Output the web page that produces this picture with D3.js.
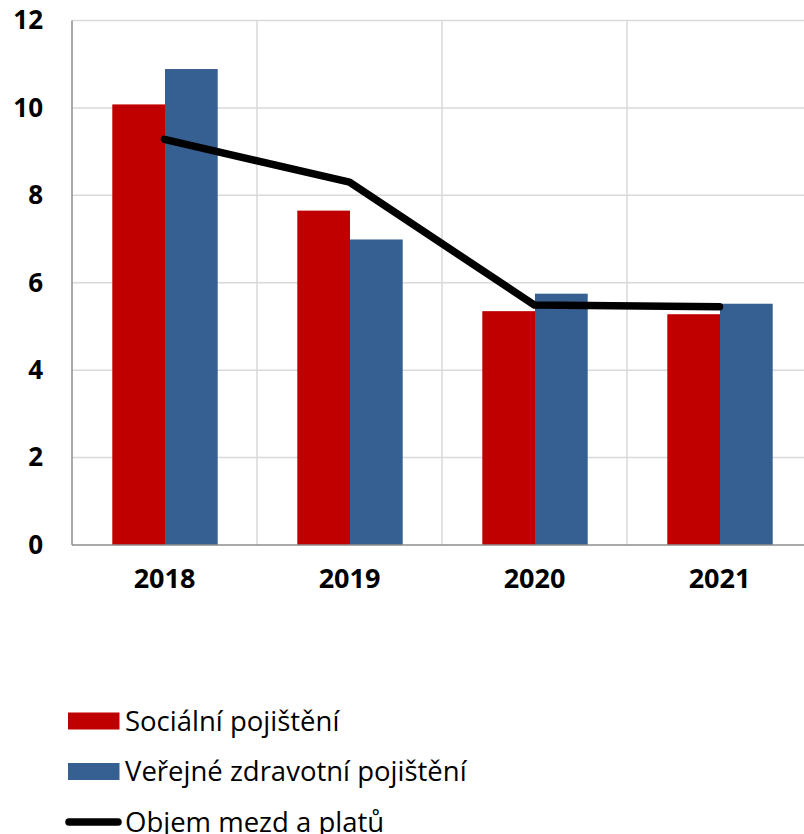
<!DOCTYPE html>
<html>
<head>
<meta charset="utf-8">
<script src="https://cdn.jsdelivr.net/npm/d3@7"></script>
<style>
html,body{margin:0;padding:0;background:#fff;}
svg{display:block;}
</style>
</head>
<body>
<script>
const years = ["2018", "2019", "2020", "2021"];
const seriesNames = ["Sociální pojištění", "Veřejné zdravotní pojištění"];
const socialni = [10.08, 7.65, 5.35, 5.28];
const zdravotni = [10.89, 6.99, 5.75, 5.52];
const lineName = "Objem mezd a platů";
const objem = [9.28, 8.30, 5.49, 5.45];
const yTicks = [0, 2, 4, 6, 8, 10, 12];
const colors = ["#C00000", "#376092"];

const W = 804, H = 834;
const svg = d3.select("body").append("svg").attr("width", W).attr("height", H);

const x = d3.scaleBand().domain(years).range([72, 812]).padding(0);
const xs = d3.scaleBand().domain([0, 1]).range([40.3, 145.7]).padding(0);
const y = d3.scaleLinear().domain([0, 12]).range([545, 20.5]);

// gridlines
const grid = svg.append("g");
grid.selectAll("line.h").data(yTicks.filter(d => d > 0)).join("line")
  .attr("x1", 72).attr("x2", W).attr("y1", d => y(d)).attr("y2", d => y(d))
  .attr("stroke", "#d9d9d9").attr("stroke-width", 1.5);
grid.selectAll("line.v").data(years.slice(1)).join("line")
  .attr("x1", d => x(d)).attr("x2", d => x(d)).attr("y1", y(12)).attr("y2", y(0))
  .attr("stroke", "#d9d9d9").attr("stroke-width", 1.5);

// bars
const data = [socialni, zdravotni];
data.forEach((vals, si) => {
  svg.append("g").selectAll("rect").data(years).join("rect")
    .attr("x", d => x(d) + xs(si))
    .attr("width", xs.bandwidth())
    .attr("y", (d, i) => y(vals[i]))
    .attr("height", (d, i) => y(0) - y(vals[i]))
    .attr("fill", colors[si]);
});

// axes lines
svg.append("line").attr("x1", 72).attr("x2", 72).attr("y1", y(12)).attr("y2", y(0))
  .attr("stroke", "#8c8c8c").attr("stroke-width", 1.5);
svg.append("line").attr("x1", 72).attr("x2", W).attr("y1", y(0)).attr("y2", y(0))
  .attr("stroke", "#8c8c8c").attr("stroke-width", 1.5);

// line
const line = d3.line().x((d, i) => x(years[i]) + x.bandwidth() / 2).y(d => y(d));
svg.append("path").datum(objem).attr("d", line)
  .attr("fill", "none").attr("stroke", "#000").attr("stroke-width", 7.5)
  .attr("stroke-linecap", "round").attr("stroke-linejoin", "round");

// y tick labels
const yAxis = d3.axisLeft(y).tickValues(yTicks).tickSize(0).tickPadding(0);
const gy = svg.append("g").attr("transform", "translate(43,0)").call(yAxis);
gy.select(".domain").remove();
gy.selectAll("text").attr("font-family", "'Open Sans', sans-serif")
  .attr("font-weight", "bold").attr("font-size", 26).attr("fill", "#000");

// x tick labels
const xAxis = d3.axisBottom(x).tickSize(0).tickPadding(0);
const gx = svg.append("g").attr("transform", "translate(0,569)").call(xAxis);
gx.select(".domain").remove();
gx.selectAll("text").attr("font-family", "'Open Sans', sans-serif")
  .attr("font-weight", "bold").attr("font-size", 27).attr("fill", "#000");

// legend
const leg = svg.append("g").attr("font-family", "'Open Sans', sans-serif").attr("font-size", 27.5);
const legY = [721, 771.5, 822];
seriesNames.forEach((n, i) => {
  leg.append("rect").attr("x", 68).attr("y", legY[i] - 8.5).attr("width", 51.5).attr("height", 17)
    .attr("fill", colors[i]);
  leg.append("text").attr("x", 125).attr("y", legY[i]).attr("dy", "0.35em").text(n);
});
leg.append("line").attr("x1", 69).attr("x2", 118).attr("y1", legY[2]).attr("y2", legY[2])
  .attr("stroke", "#000").attr("stroke-width", 7.5).attr("stroke-linecap", "round");
leg.append("text").attr("x", 125).attr("y", legY[2]).attr("dy", "0.35em").text(lineName);
</script>
</body>
</html>
